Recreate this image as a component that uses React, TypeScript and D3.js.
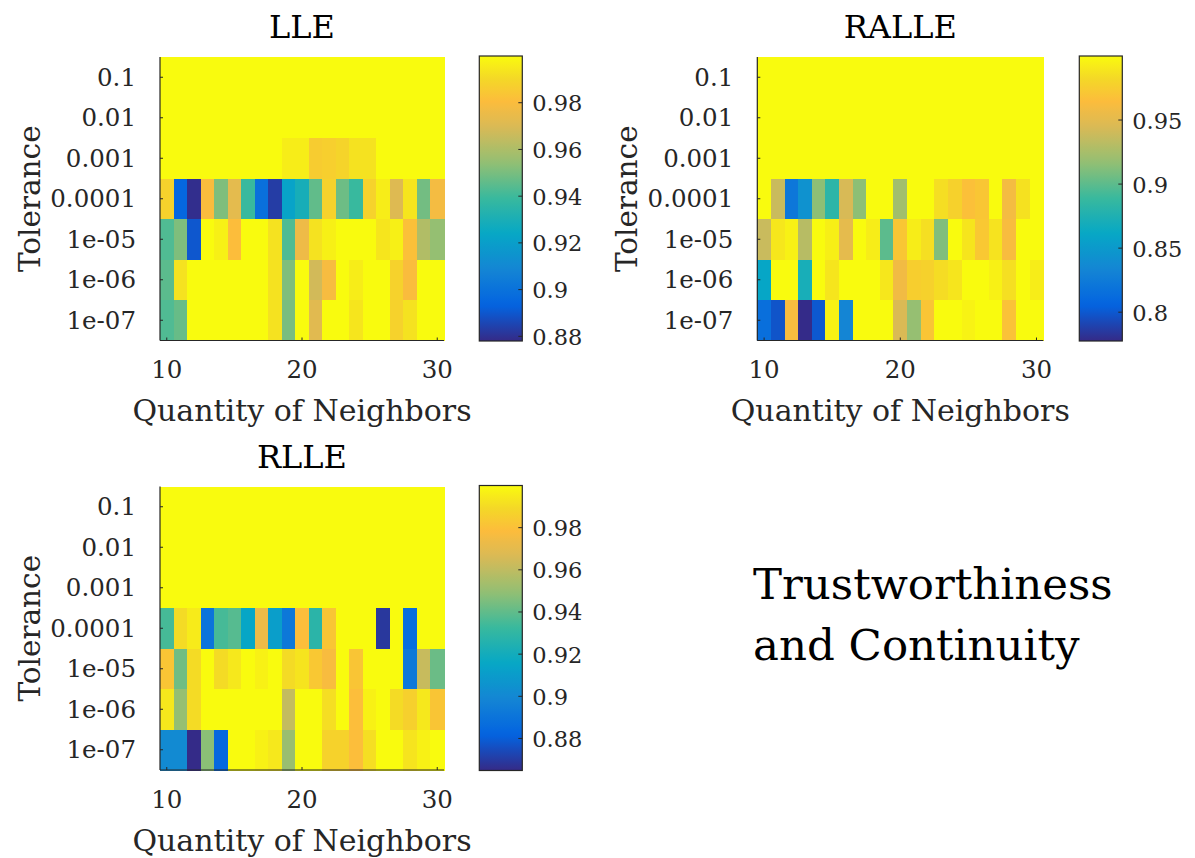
import React from "react";
import * as d3 from "d3";

// ---------- data ----------
const neighbors = [10, 11, 12, 13, 14, 15, 16, 17, 18, 19, 20, 21, 22, 23, 24, 25, 26, 27, 28, 29, 30];
const tolerances = ["0.1", "0.01", "0.001", "0.0001", "1e-05", "1e-06", "1e-07"];
const xTickValues = [10, 20, 30];

const lleValues = [
  [1, 1, 1, 1, 1, 1, 1, 1, 1, 1, 1, 1, 1, 1, 1, 1, 1, 1, 1, 1, 1],
  [1, 1, 1, 1, 1, 1, 1, 1, 1, 1, 1, 1, 1, 1, 1, 1, 1, 1, 1, 1, 1],
  [1, 1, 1, 1, 1, 1, 1, 1, 1, 0.996, 0.996, 0.986, 0.987, 0.989, 0.993, 0.993, 1, 1, 1, 1, 1],
  [0.988, 0.895, 0.879, 0.98, 0.951, 0.973, 0.939, 0.899, 0.883, 0.922, 0.929, 0.946, 0.988, 0.948, 0.939, 0.988, 0.996, 0.971, 0.994, 0.949, 0.978],
  [0.943, 0.951, 0.89, 1, 0.997, 0.981, 1, 1, 0.993, 0.943, 0.976, 0.993, 0.997, 1, 1, 1, 0.994, 0.997, 0.982, 0.961, 0.955],
  [0.945, 0.993, 1, 1, 1, 1, 1, 1, 0.993, 0.951, 1, 0.968, 0.979, 1, 0.996, 1, 1, 0.988, 0.98, 1, 1],
  [0.943, 0.947, 1, 1, 1, 1, 1, 1, 0.993, 0.95, 1, 0.972, 1, 1, 0.994, 1, 1, 0.988, 0.993, 1, 1],
];

const ralleValues = [
  [1, 1, 1, 1, 1, 1, 1, 1, 1, 1, 1, 1, 1, 1, 1, 1, 1, 1, 1, 1, 1],
  [1, 1, 1, 1, 1, 1, 1, 1, 1, 1, 1, 1, 1, 1, 1, 1, 1, 1, 1, 1, 1],
  [1, 1, 1, 1, 1, 1, 1, 1, 1, 1, 1, 1, 1, 1, 1, 1, 1, 1, 1, 1, 1],
  [1, 0.938, 0.822, 0.844, 0.915, 0.882, 0.944, 0.915, 1, 1, 0.922, 1, 1, 0.985, 0.978, 0.967, 0.971, 1, 0.96, 0.987, 1],
  [0.938, 0.99, 0.995, 0.931, 1, 0.994, 0.951, 1, 0.993, 0.9, 0.971, 0.993, 0.986, 0.911, 1, 0.989, 0.972, 0.988, 0.962, 1, 1],
  [0.86, 1, 1, 0.871, 1, 0.989, 1, 1, 1, 0.99, 0.958, 0.976, 0.978, 0.984, 0.989, 1, 1, 0.995, 0.986, 1, 0.993],
  [0.815, 0.798, 0.962, 0.778, 0.8, 0.995, 0.833, 1, 1, 1, 0.945, 0.918, 0.97, 1, 1, 0.996, 1, 1, 0.968, 1, 1],
];

const rlleValues = [
  [1, 1, 1, 1, 1, 1, 1, 1, 1, 1, 1, 1, 1, 1, 1, 1, 1, 1, 1, 1, 1],
  [1, 1, 1, 1, 1, 1, 1, 1, 1, 1, 1, 1, 1, 1, 1, 1, 1, 1, 1, 1, 1],
  [1, 1, 1, 1, 1, 1, 1, 1, 1, 1, 1, 1, 1, 1, 1, 1, 1, 1, 1, 1, 1],
  [0.935, 0.99, 0.995, 0.89, 0.935, 0.938, 0.915, 0.973, 0.911, 0.892, 0.979, 0.928, 0.982, 1, 1, 1, 0.869, 1, 0.887, 1, 1],
  [0.982, 0.943, 0.99, 1, 0.99, 0.994, 1, 0.997, 1, 0.99, 0.993, 0.983, 0.977, 1, 0.982, 1, 1, 1, 0.892, 0.962, 0.942],
  [0.994, 0.95, 0.99, 1, 1, 1, 1, 1, 1, 0.961, 1, 1, 0.991, 1, 0.979, 0.997, 1, 0.99, 0.986, 0.994, 0.982],
  [0.901, 0.901, 0.865, 0.948, 0.884, 1, 1, 0.997, 0.994, 0.951, 1, 1, 0.987, 0.987, 0.979, 0.991, 1, 1, 0.993, 0.997, 1],
];

const lleDomain = [0.878, 1.0];
const ralleDomain = [0.7775, 1.0];
const rlleDomain = [0.8648, 1.0];
const lleCbTicks = [0.88, 0.9, 0.92, 0.94, 0.96, 0.98];
const ralleCbTicks = [0.8, 0.85, 0.9, 0.95];
const rlleCbTicks = [0.88, 0.9, 0.92, 0.94, 0.96, 0.98];

// ---------- styling ----------
const parulaStops = [0, 0.125, 0.25, 0.375, 0.5, 0.625, 0.75, 0.84, 0.92, 1];
const parulaColors = ["#352a87", "#0363e1", "#1485d4", "#06a7c6", "#38b99e", "#92bf73", "#d9ba56", "#fcbc3c", "#f4d827", "#f9fb0e"];
const parula = d3.scaleLinear<string>().domain(parulaStops).range(parulaColors).interpolate(d3.interpolateRgb).clamp(true);

const FONT = "'DejaVu Serif', serif";
const AX = "#262626";

type PanelProps = {
  id: string;
  title: string;
  values: number[][];
  domain: number[];
  cbTicks: number[];
  x0: number;
  y0: number;
  w: number;
  h: number;
  cbX: number;
};

function Panel({ id, title, values, domain, cbTicks, x0, y0, w, h, cbX }: PanelProps) {
  const x = d3.scaleBand<number>().domain(neighbors).range([x0, x0 + w]).padding(0);
  const y = d3.scaleBand<string>().domain(tolerances).range([y0, y0 + h]).padding(0);
  const norm = d3.scaleLinear().domain(domain).range([0, 1]).clamp(true);
  const color = (v: number) => parula(norm(v));
  const cbTop = y0 - 1;
  const cbBot = y0 + h + 0.5;
  const cbW = 43;
  const cy = d3.scaleLinear().domain(domain).range([cbBot, cbTop]);
  const gradStops = d3.range(0, 1.0001, 0.02);
  const xc = (n: number) => (x(n) as number) + x.bandwidth() / 2;
  const yc = (t: string) => (y(t) as number) + y.bandwidth() / 2;
  const bottom = y0 + h;

  return (
    <g>
      <defs>
        <linearGradient id={`grad-${id}`} x1="0" y1="1" x2="0" y2="0">
          {gradStops.map((t) => (
            <stop key={t} offset={t} stopColor={parula(t)} />
          ))}
        </linearGradient>
      </defs>
      {/* title */}
      <text x={x0 + w / 2} y={y0 - 19} textAnchor="middle" fontFamily={FONT} fontSize={32} fill="#000">
        {title}
      </text>
      {/* cells */}
      <g shapeRendering="crispEdges">
        {values.map((row, ri) =>
          row.map((v, ci) => (
            <rect
              key={`${ri}-${ci}`}
              x={x(neighbors[ci])}
              y={y(tolerances[ri])}
              width={x.bandwidth() + 0.5}
              height={y.bandwidth() + 0.5}
              fill={color(v)}
            />
          ))
        )}
      </g>
      {/* axis lines */}
      <line x1={x0} x2={x0} y1={y0} y2={bottom} stroke={AX} strokeWidth={1.2} />
      <line x1={x0} x2={x0 + w} y1={bottom} y2={bottom} stroke={AX} strokeWidth={1.2} />
      {/* y ticks */}
      {tolerances.map((t) => (
        <g key={t}>
          <line x1={x0} x2={x0 + 3} y1={yc(t)} y2={yc(t)} stroke={AX} strokeWidth={1} />
          <text x={x0 - 24} y={yc(t) + 8.5} textAnchor="end" fontFamily={FONT} fontSize={24.5} fill={AX}>
            {t}
          </text>
        </g>
      ))}
      {/* x ticks */}
      {xTickValues.map((n) => (
        <g key={n}>
          <line x1={xc(n)} x2={xc(n)} y1={bottom} y2={bottom - 3} stroke={AX} strokeWidth={1} />
          <text x={xc(n)} y={bottom + 37.5} textAnchor="middle" fontFamily={FONT} fontSize={24.5} fill={AX}>
            {n}
          </text>
        </g>
      ))}
      {/* axis labels */}
      <text x={x0 + w / 2} y={bottom + 80.5} textAnchor="middle" fontFamily={FONT} fontSize={30} fill={AX}>
        Quantity of Neighbors
      </text>
      <text
        transform={`translate(${x0 - 120},${y0 + h / 2}) rotate(-90)`}
        textAnchor="middle"
        fontFamily={FONT}
        fontSize={29.5}
        fill={AX}
      >
        Tolerance
      </text>
      {/* colorbar */}
      <rect x={cbX} y={cbTop} width={cbW} height={cbBot - cbTop} fill={`url(#grad-${id})`} />
      <rect x={cbX} y={cbTop} width={cbW} height={cbBot - cbTop} fill="none" stroke={AX} strokeWidth={1.2} />
      {cbTicks.map((t) => (
        <g key={t}>
          <line x1={cbX + cbW} x2={cbX + cbW - 4} y1={cy(t)} y2={cy(t)} stroke={AX} strokeWidth={1} />
          <text x={cbX + cbW + 10} y={cy(t) + 8.5} fontFamily={FONT} fontSize={22.5} fill={AX}>
            {String(t)}
          </text>
        </g>
      ))}
    </g>
  );
}

export default function App() {
  return (
    <svg
      width={1195}
      height={858}
      style={{ position: "absolute", left: 0, top: 0, background: "#fff" }}
    >
      <rect x={0} y={0} width={1195} height={858} fill="#fff" />
      <Panel id="lle" title="LLE" values={lleValues} domain={lleDomain} cbTicks={lleCbTicks} x0={160} y0={57} w={284} h={283.5} cbX={479.3} />
      <Panel id="ralle" title="RALLE" values={ralleValues} domain={ralleDomain} cbTicks={ralleCbTicks} x0={757.3} y0={57} w={286} h={283.5} cbX={1079.3} />
      <Panel id="rlle" title="RLLE" values={rlleValues} domain={rlleDomain} cbTicks={rlleCbTicks} x0={160} y0={486.5} w={284} h={283.5} cbX={479.3} />
      <text x={753} y={599} fontFamily={FONT} fontSize={43.5} fill="#000">
        Trustworthiness
      </text>
      <text x={753} y={660} fontFamily={FONT} fontSize={43.5} fill="#000">
        and Continuity
      </text>
    </svg>
  );
}
